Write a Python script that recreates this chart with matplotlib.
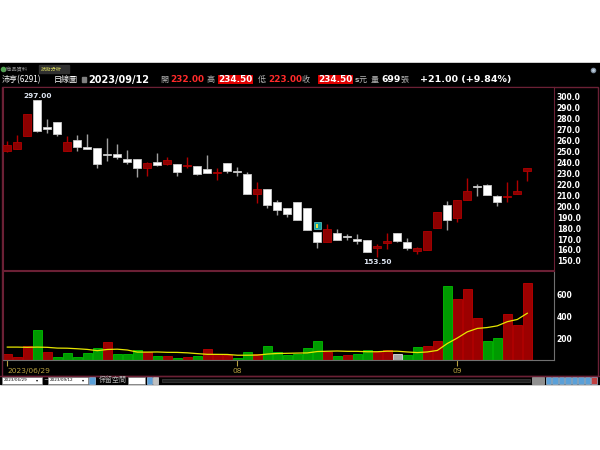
import numpy as np
import matplotlib.pyplot as plt
from matplotlib.patches import Rectangle

plt.rcParams['font.family'] = ['Noto Sans CJK TC', 'DejaVu Sans']

# daily candles 2023/06/29 .. 2023/09/12
opens = [250, 252, 264, 297, 272.5, 277, 250, 260.5, 254.5, 253,
         247.5, 248, 243, 243, 235, 240, 238.5, 239, 236.5, 237,
         234, 230.5, 239.5, 232, 229, 211, 215.5, 203.5, 198, 203.5,
         198.5, 176.5, 167.5, 175.5, 172, 170, 169, 161.5, 166, 175.5,
         167.5, 159.5, 160, 180.5, 201.5, 189.5, 206, 218, 219.5, 209.5,
         208, 211.5, 232]
highs = [259.5, 265.5, 284.5, 297, 280, 277, 264.5, 265.5, 266, 253,
         262, 256.5, 251, 243, 240, 249, 245, 239, 244.5, 237,
         247, 235, 239.5, 235.5, 231.5, 222, 215.5, 205.5, 198, 203.5,
         198.5, 176.5, 183.5, 179, 174.5, 174.5, 169, 165, 175.5, 175.5,
         170.5, 163, 177.5, 195, 204.5, 205.5, 226, 220, 220.5, 210,
         222.5, 224, 234.5]
lows = [249.5, 252, 264, 268, 267, 264.5, 250, 250.5, 252, 234.5,
        241, 243.5, 239, 227, 228, 237, 238, 228, 235, 228.5,
        230, 224, 230, 228, 211, 203, 198, 192, 190.5, 187,
        178, 161.5, 167.5, 169, 169, 165, 158, 153.5, 160.5, 167.5,
        160, 156, 160, 180.5, 178.5, 186, 205.5, 209.5, 210, 200.5,
        204, 211, 223]
closes = [256, 259, 284.5, 269, 270.5, 266, 258.5, 254.5, 252, 238.5,
          247, 245, 240, 235, 239.5, 237.5, 242, 231.5, 237.5, 229.5,
          230, 231.5, 232, 231.5, 211, 215.5, 201, 196.5, 193, 187.5,
          178, 167.5, 179, 169, 171.5, 168.5, 158.5, 163.5, 168, 168,
          162, 161.5, 177.5, 195, 187, 205.5, 214, 217.5, 210, 203.5,
          209.5, 213.5, 234.5]

volumes = [57, 30, 133, 277, 78, 30, 69, 30, 66, 108,
           163, 57, 57, 90, 75, 42, 36, 24, 27, 36,
           99, 54, 48, 21, 75, 57, 126, 75, 45, 57,
           114, 178, 75, 42, 48, 54, 90, 78, 93, 54,
           45, 123, 133, 178, 678, 554, 651, 389, 175, 205,
           425, 325, 699]
vol_dir = list('rrrgrgggggrgggrgrgrgrrrggrgggggg' 'rgrggrrngg' 'rrgrrrggrrr')
prev_volumes = [30, 153, 257, 99, 99, 80, 79, 126, 220]  # before 06/29, for MA10

date_ticks = [0, 23, 45]
date_labels = ['2023/06/29', '08', '09']
price_ticks = list(range(150, 301, 10))
vol_ticks = [200, 400, 600]

W, H = 600, 450
fig = plt.figure(figsize=(6, 4.5), dpi=100, facecolor='white')


def fax(x0, y0, x1, y1):
    return [x0 / W, 1 - y1 / H, (x1 - x0) / W, (y1 - y0) / H]


BORDER = '#6b2035'
GRAY = '#b4b4b4'
RED_TXT = '#ff2a2a'

# window chrome, in pixel coordinates
bg = fig.add_axes([0, 0, 1, 1])
bg.set_xlim(0, W)
bg.set_ylim(H, 0)
bg.axis('off')
bg.add_patch(Rectangle((0, 63), 600, 321, color='black'))
bg.add_patch(Rectangle((1.5, 86.5), 596, 289, fill=False, ec=BORDER, lw=1))

# tab row
bg.plot(2.5, 68.5, 'o', ms=3, color='#50a050')
bg.text(5, 69, '/商品資料', fontsize=3.8, color='#909090', va='center')
bg.add_patch(Rectangle((39, 64.5), 30, 8, color='#303030'))
bg.text(41, 69, '技術分析', fontsize=3.8, color='#d8d860', va='center')
bg.plot(593, 70, 'o', ms=3, mfc='#c0d0e0', mec='#8090a0')

# header row
hy = 79.5
bg.text(2, hy, '沛亨(6291)', fontsize=5.8, color='white', va='center')
bg.text(54, hy, '日線圖', fontsize=5.8, color='white', va='center')
bg.add_patch(Rectangle((82, 77), 4, 5, color='#808080'))
bg.text(88, hy, '2023/09/12', fontsize=7, color='white', va='center',
        weight='bold', family='DejaVu Sans')
items = [(160, '開', None, None), (170, '232.00', RED_TXT, None),
         (206.5, '高', None, None), (218, '234.50', 'white', '#e00000'),
         (257.5, '低', None, None), (268, '223.00', RED_TXT, None),
         (302, '收', None, None), (318, '234.50', 'white', '#e00000')]
for x, s, c, box in items:
    if c is None:
        bg.text(x, hy, s, fontsize=5.8, color=GRAY, va='center')
    else:
        bbox = None
        if box:
            bbox = dict(boxstyle='square,pad=0.05', fc=box, ec='none')
        bg.text(x, hy, s, fontsize=6.4, color=c, va='center', weight='bold',
                family='DejaVu Sans', bbox=bbox)
bg.text(354.5, hy, 's', fontsize=5.3, color=GRAY, va='center', weight='bold', family='DejaVu Sans')
bg.text(359, hy, '元', fontsize=5.8, color=GRAY, va='center')
bg.text(371, hy, '量', fontsize=5.8, color=GRAY, va='center')
bg.text(381, hy, '699', fontsize=6.6, color='white', va='center', weight='bold', family='DejaVu Sans')
bg.text(401, hy, '張', fontsize=5.8, color=GRAY, va='center')
bg.text(420, hy, '+21.00 (+9.84%)', fontsize=6.8, color='white', va='center',
        weight='bold', family='DejaVu Sans')

# price panel
ax = fig.add_axes(fax(3, 87, 554, 270))
ax.set_facecolor('black')
x = np.arange(len(closes))
o, h, l, c = map(np.array, (opens, highs, lows, closes))
up = c >= o
body_col = np.where(up, '#8c0000', 'white')
edge_col = np.where(up, '#b00000', '#c8c8c8')
wick_col = np.where(up, '#b00000', '#a0a0a0')
ax.vlines(x, l, h, colors=wick_col, lw=1, zorder=2)
bottoms = np.minimum(o, c)
heights = np.maximum(np.abs(c - o), 0.9)
ax.bar(x, heights, bottom=bottoms, width=0.8, color=body_col,
       edgecolor=edge_col, lw=0.6, zorder=3)
ax.annotate('297.00', (3, 297), xytext=(0, 1), textcoords='offset points',
            ha='center', va='bottom', fontsize=5.3, weight='bold',
            color='#dde4f0', family='DejaVu Sans')
ax.annotate('153.50', (37, 153.5), xytext=(0, -1.5), textcoords='offset points',
            ha='center', va='top', fontsize=5.3, weight='bold',
            color='#dde4f0', family='DejaVu Sans')
ax.add_patch(Rectangle((31 - 0.35, 178.8), 0.7, 6.6, fc='#10a0a0', ec='#60d0d0',
                       lw=0.5, zorder=4))
ax.add_patch(Rectangle((31 - 0.1, 180.3), 0.2, 3.6, fc='#e8e040', ec='none', zorder=5))
ax.set_xlim(-0.43, 54.67)
ax.set_ylim(141.7, 308.9)
ax.yaxis.tick_right()
ax.set_yticks(price_ticks)
ax.set_yticklabels([f'{t:.1f}' for t in price_ticks], fontsize=5.5,
                   weight='bold', color='white', family='DejaVu Sans')
ax.tick_params(axis='y', length=0, pad=2)
ax.set_xticks([])
for s in ax.spines.values():
    s.set_color(BORDER)

# volume panel
vax = fig.add_axes(fax(3, 271, 554, 360.3))
vax.set_facecolor('black')
vcol = {'r': '#9c0000', 'g': '#009a00', 'n': '#a8a8a8'}
vedge = {'r': '#c00000', 'g': '#00c000', 'n': '#e0e0e0'}
vax.bar(x, volumes, width=0.88, color=[vcol[d] for d in vol_dir],
        edgecolor=[vedge[d] for d in vol_dir], lw=0.6)
allv = np.array(prev_volumes + volumes, dtype=float)
ma10 = np.convolve(allv, np.ones(10) / 10, mode='valid')
vax.plot(x, ma10, color='#e6e600', lw=0.9)
vax.set_xlim(-0.43, 54.67)
vax.set_ylim(0, 812)
vax.yaxis.tick_right()
vax.set_yticks(vol_ticks)
vax.set_yticklabels([str(t) for t in vol_ticks], fontsize=5.5, weight='bold',
                    color='white', family='DejaVu Sans')
vax.tick_params(axis='y', length=0, pad=2)
vax.set_xticks(date_ticks)
vax.set_xticklabels(date_labels, fontsize=5.4, color='#b8a040', family='DejaVu Sans')
vax.tick_params(axis='x', length=4, color='#b8a040', pad=1.5)
vax.get_xticklabels()[0].set_horizontalalignment('left')
vax.spines['top'].set_color(BORDER)
vax.spines['left'].set_color(BORDER)
vax.spines['right'].set_color('#707070')
vax.spines['bottom'].set_color('#707070')

ty = 276.5
bg.text(3, ty, '成交量', fontsize=5.3, color=GRAY, va='center')
bg.text(34, ty, '成交量', fontsize=5.3, color=GRAY, va='center')
bg.text(58, ty, '699', fontsize=5.6, color='white', va='center', weight='bold', family='DejaVu Sans')
bg.text(74.5, ty, '↑', fontsize=5, color='#ff2020', va='center', weight='bold',
        family='DejaVu Sans')
bg.text(81.5, ty, '張', fontsize=5.3, color=GRAY, va='center')
bg.text(99, ty, 'MA10 427', fontsize=5.4, color='#ffff00', va='center', weight='bold',
        family='DejaVu Sans')
bg.text(140.5, ty, '↑', fontsize=5, color='#ff2020', va='center', weight='bold',
        family='DejaVu Sans')
bg.text(147, ty, '張', fontsize=5.3, color='#e0e040', va='center')

# bottom toolbar
bg.plot([0, 600], [375.5, 375.5], color=BORDER, lw=1)
by = 380
for x0, x1, s in [(2, 42, '2023/06/29'), (48, 88, '2023/09/12')]:
    bg.add_patch(Rectangle((x0, 377), x1 - x0, 6.5, fc='white', ec='#909090', lw=0.5))
    bg.text(x0 + 1.5, by, s, fontsize=3, color='black', va='center', family='DejaVu Sans')
    bg.text(x1 - 6, by, '▾', fontsize=3, color='black', va='center', family='DejaVu Sans')
bg.text(43.5, by, '~', fontsize=4.5, color='white', va='center', family='DejaVu Sans')
bg.add_patch(Rectangle((89, 377), 6, 6.5, fc='#5aa0d8', ec='#a0c8f0', lw=0.5))
bg.text(99, by, '保留空間', fontsize=5, color=GRAY, va='center')
bg.add_patch(Rectangle((128, 377), 17, 6.5, fc='white', ec='#909090', lw=0.5))
bg.add_patch(Rectangle((147, 377), 5, 6.5, fc='#5aa0d8', ec='#a0c8f0', lw=0.5))
bg.add_patch(Rectangle((153, 377), 5, 6.5, fc='#c0c0c0', ec='#e0e0e0', lw=0.5))
bg.add_patch(Rectangle((162, 378.5), 368, 3.5, fc='#202020', ec='#404040', lw=0.5))
bg.add_patch(Rectangle((532, 377), 12, 6.5, fc='#909090', ec='#b0b0b0', lw=0.5))
for i in range(8):
    fc = '#c04040' if i == 7 else '#5aa0d8'
    bg.add_patch(Rectangle((545.5 + i * 6.5, 377), 5.5, 6.5, fc=fc, ec='#c0e0ff', lw=0.4))

fig.savefig('out.png', dpi=100, facecolor='white')
